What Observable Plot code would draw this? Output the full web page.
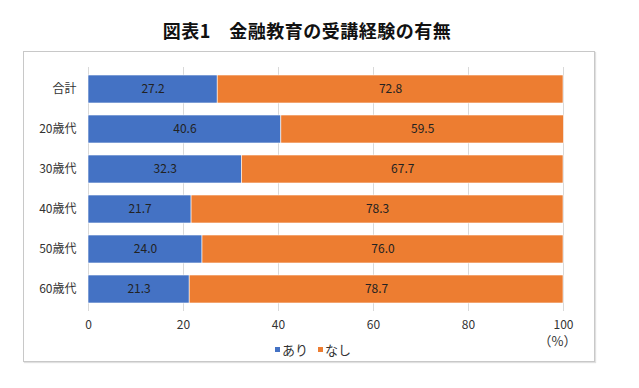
<!DOCTYPE html>
<html><head><meta charset="utf-8">
<script src="https://cdn.jsdelivr.net/npm/d3@7"></script>
<script src="https://cdn.jsdelivr.net/npm/@observablehq/plot@0.6"></script>
<style>
body{margin:0;background:#fff;font-family:"Noto Sans CJK JP","Noto Sans",sans-serif;}
#wrap{position:relative;width:639px;height:388px;}
#title{position:absolute;left:0;width:614px;top:17px;text-align:center;font-size:18px;font-weight:bold;color:#111;letter-spacing:0.5px;}
#frame{position:absolute;left:23px;top:51px;width:570px;height:309px;border:1px solid #c8c8c8;box-shadow:1px 1px 1px #e0e0e0;}
#chart{position:absolute;left:0;top:0;}
#legend{position:absolute;top:340px;left:275px;font-size:13px;color:#333;display:flex;align-items:center;}
#legend span.sw{display:inline-block;width:5px;height:5px;margin-right:2px;}
#legend span.lb{margin-right:10px;}
</style></head>
<body><div id="wrap">
<div id="frame"></div>
<div id="title">図表1　金融教育の受講経験の有無</div>
<div id="chart"></div>
<div id="legend"></div>
</div>
<script>
const categories = ["合計","20歳代","30歳代","40歳代","50歳代","60歳代"];
const seriesNames = ["あり","なし"];
const ari = [27.2, 40.6, 32.3, 21.7, 24.0, 21.3];
const nashi = [72.8, 59.5, 67.7, 78.3, 76.0, 78.7];
const xTicks = [0, 20, 40, 60, 80, 100];
const unitLabel = "（%）";
const colors = ["#4472C4", "#ED7D31"];

const data = [];
categories.forEach((c, i) => {
  data.push({cat: c, series: seriesNames[0], value: ari[i]});
  data.push({cat: c, series: seriesNames[1], value: nashi[i]});
});

const chart = Plot.plot({
  width: 639,
  height: 388,
  marginLeft: 88,
  marginRight: 76,
  marginTop: 67,
  marginBottom: 77,
  style: {fontFamily: "'Noto Sans CJK JP', sans-serif", fontSize: "12px", color: "#333", background: "transparent"},
  x: {domain: [0, 100], ticks: xTicks, tickSize: 0, tickPadding: 9, label: null},
  y: {domain: categories, paddingInner: 0.31, paddingOuter: 0.155, tickSize: 0, tickPadding: 12, label: null},
  color: {domain: seriesNames, range: colors},
  marks: [
    Plot.ruleX(xTicks, {stroke: "#d9d9d9", strokeWidth: 1}),
    Plot.barX(data, Plot.stackX({x: "value", y: "cat", fill: "series", order: seriesNames, stroke: "#fff", strokeWidth: 0.6})),
    Plot.text(data, Plot.stackX({x: "value", y: "cat", z: "series", order: seriesNames, text: d => d.value.toFixed(1), fill: "#222", fontSize: 12})),
    Plot.text([unitLabel], {frameAnchor: "bottom-right", dx: -6, dy: 34, fill: "#333", fontSize: 13, textAnchor: "middle"})
  ]
});
document.getElementById("chart").appendChild(chart);

const lg = document.getElementById("legend");
seriesNames.forEach((s, i) => {
  const sw = document.createElement("span"); sw.className = "sw"; sw.style.background = colors[i];
  const lb = document.createElement("span"); lb.className = "lb"; lb.textContent = s;
  lg.appendChild(sw); lg.appendChild(lb);
});
</script>
</body></html>
